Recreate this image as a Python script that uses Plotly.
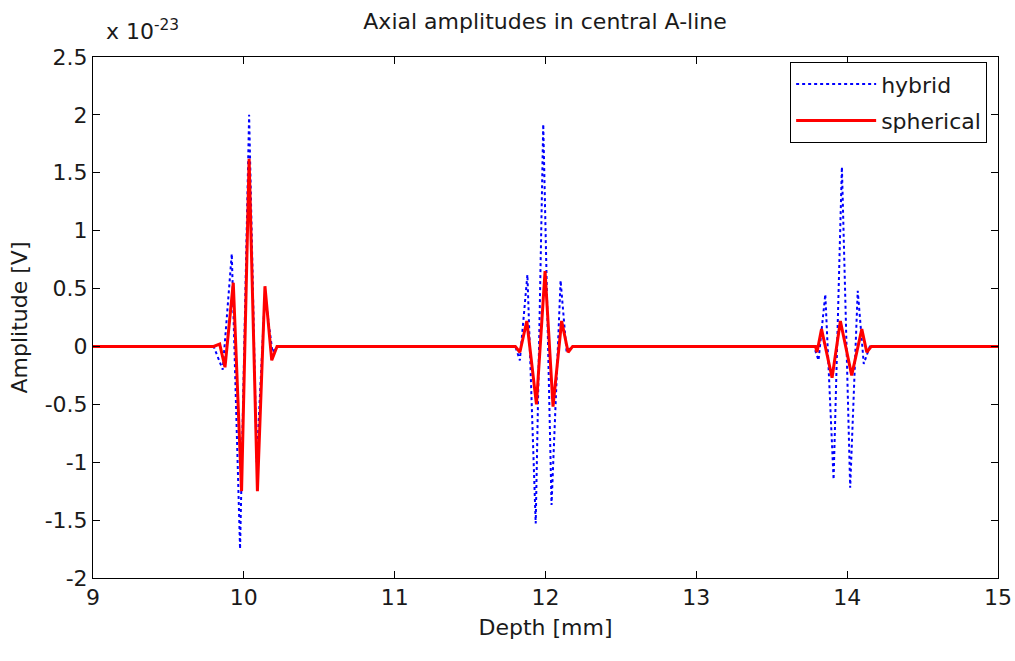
import plotly.graph_objects as go

# Amplitudes in units of 1e-23 V, depth in mm
hybrid_depth = [9.0, 9.80, 9.86, 9.92, 9.975, 10.035, 10.085, 10.14, 10.19, 10.22,
                11.80, 11.83, 11.88, 11.935, 11.985, 12.04, 12.10, 12.14, 12.17,
                13.78, 13.81, 13.855, 13.91, 13.965, 14.02, 14.07, 14.11, 14.15, 15.0]
hybrid_amp = [0.0, 0.0, -0.2, 0.8, -1.75, 2.0, -1.0, 0.45, -0.05, 0.0,
              0.0, -0.12, 0.62, -1.53, 1.92, -1.37, 0.57, -0.05, 0.0,
              0.0, -0.12, 0.45, -1.15, 1.55, -1.22, 0.48, -0.15, 0.0, 0.0]

spherical_depth = [9.0, 9.80, 9.84, 9.875, 9.93, 9.985, 10.035, 10.09, 10.14, 10.185, 10.22,
                   11.80, 11.83, 11.876, 11.94, 11.997, 12.05, 12.107, 12.15, 12.18,
                   13.79, 13.80, 13.83, 13.90, 13.955, 14.03, 14.097, 14.13, 14.16, 15.0]
spherical_amp = [0.0, 0.0, 0.02, -0.18, 0.55, -1.25, 1.62, -1.25, 0.52, -0.12, 0.0,
                 0.0, -0.05, 0.22, -0.5, 0.65, -0.52, 0.22, -0.05, 0.0,
                 0.0, -0.05, 0.15, -0.27, 0.22, -0.25, 0.15, -0.05, 0.0, 0.0]

x_ticks = [9, 10, 11, 12, 13, 14, 15]
y_ticks = [-2, -1.5, -1, -0.5, 0, 0.5, 1, 1.5, 2, 2.5]
y_tick_text = ["-2", "-1.5", "-1", "-0.5", "0", "0.5", "1", "1.5", "2", "2.5"]

font_family = "DejaVu Sans, Liberation Sans, sans-serif"
txt_color = "#1a1a1a"
fs = 22

fig = go.Figure()
fig.add_trace(go.Scatter(x=hybrid_depth, y=hybrid_amp, mode="lines", name="hybrid",
                         legendgroup="a",
                         line=dict(color="#0000ff", width=2, dash="dot")))
fig.add_trace(go.Scatter(x=spherical_depth, y=spherical_amp, mode="lines", name="spherical",
                         legendgroup="b",
                         line=dict(color="#ff0000", width=3)))

fig.update_layout(
    width=1015, height=661,
    margin=dict(l=93, r=17, t=57, b=83, autoexpand=False),
    paper_bgcolor="white", plot_bgcolor="white",
    font=dict(family=font_family, size=fs, color=txt_color),
    title=dict(text="Axial amplitudes in central A-line", x=0.537, xanchor="center",
               y=0.968, yanchor="middle", font=dict(size=fs, family=font_family, color=txt_color)),
    xaxis=dict(range=[9, 15], tickvals=x_ticks, ticks="inside", ticklen=7, tickcolor="black",
               showline=True, linecolor="black", linewidth=1, mirror="ticks",
               showgrid=False, zeroline=False, tickfont=dict(size=fs), automargin=False,
               title=dict(text="Depth [mm]", standoff=10, font=dict(size=fs))),
    yaxis=dict(range=[-2.0, 2.5], tickvals=y_ticks, ticktext=y_tick_text, ticks="inside",
               ticklen=7, tickcolor="black",
               showline=True, linecolor="black", linewidth=1, mirror="ticks",
               showgrid=False, zeroline=False, tickfont=dict(size=fs), automargin=False,
               title=dict(text="Amplitude [V]", standoff=10, font=dict(size=fs))),
    legend=dict(x=0.988, y=0.99, xanchor="right", yanchor="top",
                bgcolor="white", bordercolor="black", borderwidth=1,
                traceorder="grouped", tracegroupgap=5, itemwidth=80,
                font=dict(size=fs, family=font_family)),
    showlegend=True,
)

fig.add_annotation(text="x 10<sup>-23</sup>", xref="paper", yref="paper",
                   x=0.012, y=1.022, xanchor="left", yanchor="bottom", showarrow=False,
                   font=dict(size=fs, family=font_family, color=txt_color))

fig.write_html("out.html")
